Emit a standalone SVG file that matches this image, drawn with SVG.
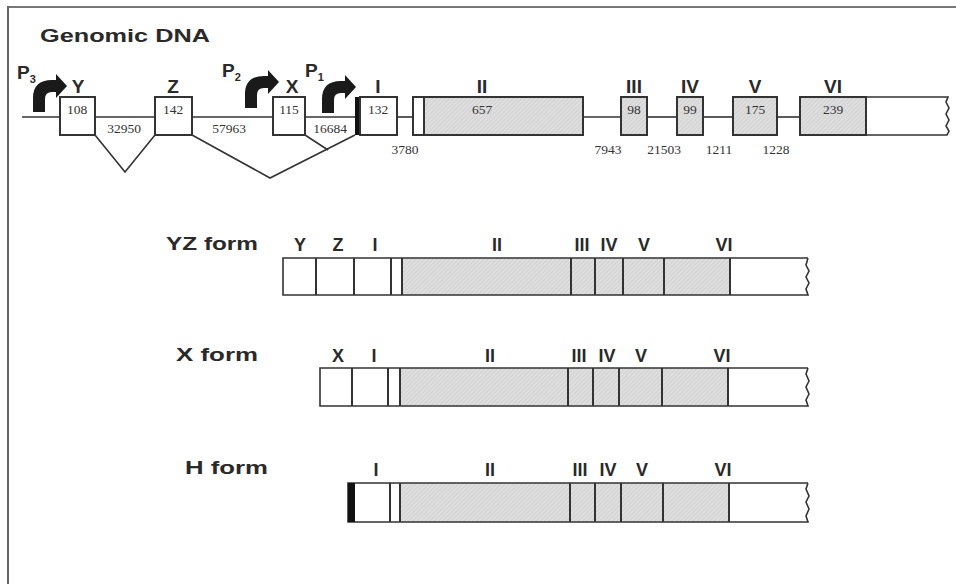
<svg xmlns="http://www.w3.org/2000/svg" width="956" height="584" viewBox="0 0 956 584">
<style>
.lbl{font-family:"Liberation Sans",Arial,sans-serif;font-weight:bold;font-size:18px;fill:#2a2a2a;text-anchor:middle}
.glbl{font-size:19px}
.ttl{font-family:"Liberation Sans",Arial,sans-serif;font-weight:bold;font-size:19px;fill:#2a2a2a}
.num{font-family:"Liberation Serif","Times New Roman",serif;font-size:13.5px;fill:#333;text-anchor:middle}
.box{fill:#fff;stroke:#333;stroke-width:2}
.ex{fill:url(#hatch);stroke:#333;stroke-width:2}
.ln{fill:none;stroke:#333;stroke-width:1.6}
.dv{stroke:#333;stroke-width:2}
</style>
<defs>
<pattern id="hatch" width="3" height="3" patternUnits="userSpaceOnUse" patternTransform="rotate(45)">
<rect width="3" height="3" fill="#dedede"/>
<line x1="0" y1="0" x2="0" y2="3" stroke="#c6c6c6" stroke-width="1"/>
</pattern>
<path id="prom" d="M0,0 L0,-14 Q0,-32 19,-32 L23,-32 L23,-38 L34,-26 L23,-14 L23,-20 L19,-20 Q12,-20 12,-13 L12,0 Z" fill="#1a1a1a"/>
</defs>
<rect width="956" height="584" fill="#fff"/>
<g id="frame">
<line x1="8" y1="7" x2="956" y2="7" stroke="#777" stroke-width="2"/>
<line x1="8" y1="6" x2="8" y2="584" stroke="#666" stroke-width="2"/>
</g>
<text class="ttl" x="40" y="42" font-size="21" textLength="170" lengthAdjust="spacingAndGlyphs">Genomic DNA</text>

<g id="connectors">
<line class="ln" x1="22" y1="117" x2="60" y2="117"/>
<line class="ln" x1="95" y1="117" x2="155" y2="117"/>
<line class="ln" x1="192" y1="117" x2="273" y2="117"/>
<line class="ln" x1="305" y1="117" x2="355" y2="117"/>
<line class="ln" x1="397" y1="117" x2="413" y2="117"/>
<line class="ln" x1="583" y1="117" x2="621" y2="117"/>
<line class="ln" x1="647" y1="117" x2="677" y2="117"/>
<line class="ln" x1="703" y1="117" x2="733" y2="117"/>
<line class="ln" x1="777" y1="117" x2="800" y2="117"/>
<polyline class="ln" points="95,135 125,172 155,135"/>
<polyline class="ln" points="192,135 270,178 355,135"/>
<polyline class="ln" points="305,135 328,150"/>
</g>

<g id="promoters">
<use href="#prom" transform="translate(33,112)"/>
<use href="#prom" transform="translate(245,108)"/>
<use href="#prom" transform="translate(322,113)"/>
<text class="ttl" x="17" y="79" font-size="17">P<tspan font-size="11" dy="4">3</tspan></text>
<text class="ttl" x="222" y="77" font-size="17">P<tspan font-size="11" dy="4">2</tspan></text>
<text class="ttl" x="305" y="77" font-size="17">P<tspan font-size="11" dy="4">1</tspan></text>
</g>

<g id="genomic">
<rect class="box" x="60" y="97" width="35" height="38"/>
<rect class="box" x="155" y="97" width="37" height="38"/>
<rect class="box" x="273" y="97" width="32" height="38"/>
<rect x="355" y="97" width="6" height="38" fill="#111"/>
<rect class="box" x="360" y="97" width="37" height="38"/>
<rect class="box" x="413" y="97" width="11" height="38"/>
<rect class="ex" x="424" y="97" width="159" height="38"/>
<rect class="ex" x="621" y="97" width="26" height="38"/>
<rect class="ex" x="677" y="97" width="26" height="38"/>
<rect class="ex" x="733" y="97" width="44" height="38"/>
<rect class="ex" x="800" y="97" width="66" height="38"/>
<path class="ln" d="M866,97 H948 L946,102 L949,108 L946,114 L949,120 L946,126 L949,131 L947,135 H866" stroke-width="2"/>
<text class="lbl glbl" x="78" y="93">Y</text>
<text class="lbl glbl" x="173" y="93">Z</text>
<text class="lbl glbl" x="292" y="93">X</text>
<text class="lbl glbl" x="378" y="93">I</text>
<text class="lbl glbl" x="482" y="93">II</text>
<text class="lbl glbl" x="634" y="93">III</text>
<text class="lbl glbl" x="690" y="93">IV</text>
<text class="lbl glbl" x="755" y="93">V</text>
<text class="lbl glbl" x="833" y="93">VI</text>
<text class="num" x="77" y="114">108</text>
<text class="num" x="173" y="114">142</text>
<text class="num" x="289" y="114">115</text>
<text class="num" x="378" y="114">132</text>
<text class="num" x="482" y="114">657</text>
<text class="num" x="634" y="114">98</text>
<text class="num" x="690" y="114">99</text>
<text class="num" x="755" y="114">175</text>
<text class="num" x="833" y="114">239</text>
<text class="num" x="124" y="133">32950</text>
<text class="num" x="229" y="133">57963</text>
<text class="num" x="330" y="133">16684</text>
<text class="num" x="405" y="154">3780</text>
<text class="num" x="608" y="154">7943</text>
<text class="num" x="664" y="154">21503</text>
<text class="num" x="719" y="154">1211</text>
<text class="num" x="776" y="154">1228</text>
</g>

<g id="yz-form">
<text class="ttl" x="166" y="250" textLength="92" lengthAdjust="spacingAndGlyphs">YZ form</text>
<rect x="402" y="258" width="328" height="37" fill="url(#hatch)"/>
<path class="ln" d="M808,258 H283 V295 H808 L806,289 L809,283 L806,277 L809,271 L806,265 L808,258" stroke-width="2"/>
<line class="dv" x1="316" y1="258" x2="316" y2="295"/>
<line class="dv" x1="354" y1="258" x2="354" y2="295"/>
<line class="dv" x1="391" y1="258" x2="391" y2="295"/>
<line class="dv" x1="402" y1="258" x2="402" y2="295"/>
<line class="dv" x1="571" y1="258" x2="571" y2="295"/>
<line class="dv" x1="595" y1="258" x2="595" y2="295"/>
<line class="dv" x1="623" y1="258" x2="623" y2="295"/>
<line class="dv" x1="664" y1="258" x2="664" y2="295"/>
<line class="dv" x1="730" y1="258" x2="730" y2="295"/>
<text class="lbl" x="300" y="251">Y</text>
<text class="lbl" x="338" y="251">Z</text>
<text class="lbl" x="375" y="251">I</text>
<text class="lbl" x="497" y="251">II</text>
<text class="lbl" x="582" y="251">III</text>
<text class="lbl" x="609" y="251">IV</text>
<text class="lbl" x="644" y="251">V</text>
<text class="lbl" x="724" y="251">VI</text>
</g>

<g id="x-form">
<text class="ttl" x="176" y="361" textLength="82" lengthAdjust="spacingAndGlyphs">X form</text>
<rect x="400" y="368" width="328" height="38" fill="url(#hatch)"/>
<path class="ln" d="M808,368 H320 V406 H808 L806,400 L809,394 L806,387 L809,381 L806,374 L808,368" stroke-width="2"/>
<line class="dv" x1="352" y1="368" x2="352" y2="406"/>
<line class="dv" x1="388" y1="368" x2="388" y2="406"/>
<line class="dv" x1="400" y1="368" x2="400" y2="406"/>
<line class="dv" x1="568" y1="368" x2="568" y2="406"/>
<line class="dv" x1="593" y1="368" x2="593" y2="406"/>
<line class="dv" x1="619" y1="368" x2="619" y2="406"/>
<line class="dv" x1="662" y1="368" x2="662" y2="406"/>
<line class="dv" x1="728" y1="368" x2="728" y2="406"/>
<text class="lbl" x="338" y="362">X</text>
<text class="lbl" x="374" y="362">I</text>
<text class="lbl" x="490" y="362">II</text>
<text class="lbl" x="579" y="362">III</text>
<text class="lbl" x="607" y="362">IV</text>
<text class="lbl" x="641" y="362">V</text>
<text class="lbl" x="722" y="362">VI</text>
</g>

<g id="h-form">
<text class="ttl" x="185" y="474" textLength="83" lengthAdjust="spacingAndGlyphs">H form</text>
<rect x="400" y="483" width="329" height="39" fill="url(#hatch)"/>
<path class="ln" d="M808,483 H348 V522 H808 L806,516 L809,509 L806,502 L809,496 L806,489 L808,483" stroke-width="2"/>
<rect x="348" y="483" width="7" height="39" fill="#111"/>
<line class="dv" x1="390" y1="483" x2="390" y2="522"/>
<line class="dv" x1="400" y1="483" x2="400" y2="522"/>
<line class="dv" x1="570" y1="483" x2="570" y2="522"/>
<line class="dv" x1="595" y1="483" x2="595" y2="522"/>
<line class="dv" x1="621" y1="483" x2="621" y2="522"/>
<line class="dv" x1="663" y1="483" x2="663" y2="522"/>
<line class="dv" x1="729" y1="483" x2="729" y2="522"/>
<text class="lbl" x="376" y="476">I</text>
<text class="lbl" x="490" y="476">II</text>
<text class="lbl" x="580" y="476">III</text>
<text class="lbl" x="608" y="476">IV</text>
<text class="lbl" x="642" y="476">V</text>
<text class="lbl" x="723" y="476">VI</text>
</g>
</svg>
